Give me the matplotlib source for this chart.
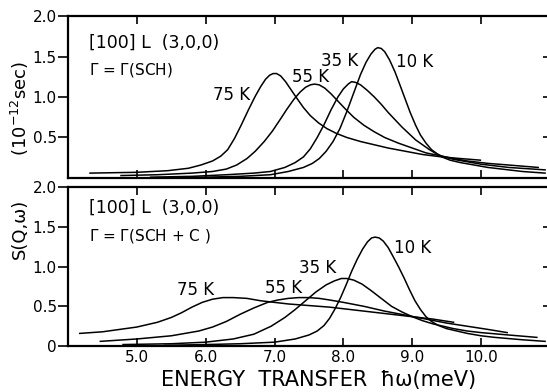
import matplotlib.pyplot as plt

# S(Q,w) line shapes, top panel: Gamma = Gamma(SCH)
top_10k_x = [5.5, 6.0, 6.5, 6.94, 7.2, 7.42, 7.55, 7.65, 7.75, 7.85, 7.95, 8.05, 8.15, 8.25, 8.33,
             8.4, 8.46, 8.5, 8.55, 8.6, 8.67, 8.75, 8.83, 8.9, 8.97, 9.05, 9.12, 9.2, 9.28, 9.36,
             9.43, 9.55, 9.7, 9.9, 10.1, 10.3, 10.6, 10.93]
top_10k_y = [0.005, 0.01, 0.02, 0.04, 0.08, 0.13, 0.18, 0.24, 0.33, 0.45, 0.61, 0.82, 1.05, 1.28,
             1.43, 1.53, 1.59, 1.61, 1.60, 1.56, 1.46, 1.31, 1.13, 0.97, 0.81, 0.65, 0.53, 0.43,
             0.35, 0.30, 0.26, 0.22, 0.19, 0.16, 0.13, 0.11, 0.08, 0.06]
top_35k_x = [5.2, 5.8, 6.3, 6.7, 6.94, 7.15, 7.3, 7.42, 7.52, 7.62, 7.72, 7.82, 7.92, 8.0, 8.07,
             8.12, 8.18, 8.25, 8.35, 8.45, 8.55, 8.65, 8.75, 8.85, 8.95, 9.05, 9.15, 9.25, 9.35,
             9.43, 9.6, 9.8, 10.0, 10.4, 10.93]
top_35k_y = [0.01, 0.02, 0.04, 0.06, 0.08, 0.13, 0.19, 0.26, 0.36, 0.50, 0.66, 0.84, 1.00, 1.10,
             1.16, 1.19, 1.18, 1.15, 1.08, 1.00, 0.91, 0.81, 0.72, 0.63, 0.55, 0.47, 0.41, 0.35,
             0.30, 0.27, 0.23, 0.20, 0.17, 0.13, 0.10]
top_55k_x = [4.77, 5.3, 5.8, 6.1, 6.3, 6.45, 6.6, 6.72, 6.85, 6.97, 7.08, 7.18, 7.28, 7.37, 7.45,
             7.52, 7.58, 7.65, 7.73, 7.82, 7.92, 8.02, 8.15, 8.3, 8.45, 8.6, 8.8, 9.0, 9.2, 9.43,
             9.6, 9.8, 10.1, 10.4, 10.83]
top_55k_y = [0.03, 0.04, 0.06, 0.08, 0.11, 0.16, 0.24, 0.33, 0.45, 0.58, 0.72, 0.85, 0.97, 1.06,
             1.12, 1.15, 1.16, 1.15, 1.11, 1.04, 0.95, 0.86, 0.75, 0.65, 0.57, 0.50, 0.43, 0.37,
             0.31, 0.27, 0.24, 0.21, 0.18, 0.16, 0.13]
top_75k_x = [4.32, 5.0, 5.45, 5.75, 5.93, 6.1, 6.22, 6.32, 6.42, 6.52, 6.62, 6.72, 6.8, 6.87,
             6.93, 6.98, 7.03, 7.09, 7.16, 7.24, 7.32, 7.42, 7.52, 7.64, 7.76, 7.9, 8.05, 8.25,
             8.45, 8.65, 8.9, 9.15, 9.43, 9.7, 9.99]
top_75k_y = [0.06, 0.07, 0.09, 0.12, 0.16, 0.21, 0.27, 0.35, 0.49, 0.66, 0.84, 1.01, 1.13, 1.22,
             1.27, 1.29, 1.29, 1.26, 1.19, 1.09, 0.99, 0.87, 0.77, 0.68, 0.61, 0.55, 0.50, 0.45,
             0.41, 0.37, 0.33, 0.29, 0.26, 0.24, 0.22]

# bottom panel: Gamma = Gamma(SCH + C)
bot_10k_x = [5.4, 6.0, 6.5, 7.0, 7.3, 7.5, 7.62, 7.72, 7.8, 7.88, 7.96, 8.04, 8.12, 8.2, 8.28,
             8.35, 8.41, 8.46, 8.52, 8.58, 8.65, 8.72, 8.8, 8.88, 8.96, 9.04, 9.12, 9.2, 9.28,
             9.38, 9.5, 9.65, 9.8, 10.0, 10.2, 10.6, 10.93]
bot_10k_y = [0.01, 0.02, 0.03, 0.05, 0.09, 0.14, 0.19, 0.26, 0.35, 0.47, 0.61, 0.77, 0.94, 1.09,
             1.22, 1.31, 1.36, 1.37, 1.36, 1.32, 1.24, 1.13, 1.0, 0.86, 0.71, 0.57, 0.46, 0.37,
             0.31, 0.26, 0.22, 0.19, 0.16, 0.13, 0.11, 0.08, 0.06]
bot_35k_x = [4.8, 5.5, 6.0, 6.4, 6.7, 6.95, 7.15, 7.3, 7.45, 7.6, 7.75, 7.87, 7.97, 8.05, 8.15,
             8.27, 8.4, 8.55, 8.7, 8.85, 9.0, 9.15, 9.3, 9.45, 9.6, 9.8, 10.0, 10.4, 10.81]
bot_35k_y = [0.02, 0.03, 0.05, 0.09, 0.15, 0.25, 0.36, 0.46, 0.57, 0.68, 0.77, 0.82, 0.85, 0.85,
             0.83, 0.78, 0.70, 0.60, 0.50, 0.43, 0.37, 0.32, 0.28, 0.25, 0.22, 0.19, 0.17, 0.14,
             0.11]
bot_55k_x = [4.47, 5.0, 5.5, 5.9, 6.1, 6.3, 6.5, 6.7, 6.9, 7.05, 7.2, 7.35, 7.5, 7.65, 7.8, 8.0,
             8.3, 8.6, 8.9, 9.2, 9.5, 9.8, 10.1, 10.38]
bot_55k_y = [0.06, 0.09, 0.13, 0.19, 0.24, 0.31, 0.40, 0.48, 0.55, 0.58, 0.60, 0.61, 0.61, 0.60,
             0.58, 0.55, 0.50, 0.44, 0.39, 0.34, 0.29, 0.25, 0.21, 0.17]
bot_75k_x = [4.17, 4.5, 5.0, 5.3, 5.5, 5.65, 5.8, 5.95, 6.1, 6.25, 6.4, 6.6, 6.8, 7.0, 7.2, 7.5,
             7.8, 8.2, 8.6, 9.0, 9.3, 9.6]
bot_75k_y = [0.16, 0.18, 0.24, 0.30, 0.36, 0.42, 0.49, 0.55, 0.59, 0.61, 0.61, 0.60, 0.57, 0.55,
             0.53, 0.51, 0.49, 0.45, 0.41, 0.37, 0.34, 0.30]

x_ticks = [5.0, 6.0, 7.0, 8.0, 9.0, 10.0]
x_tick_labels = ['5.0', '6.0', '7.0', '8.0', '9.0', '10.0']
top_y_ticks = [0.5, 1.0, 1.5, 2.0]
top_y_labels = ['0.5', '1.0', '1.5', '2.0']
bot_y_ticks = [0, 0.5, 1.0, 1.5, 2.0]
bot_y_labels = ['0', '0.5', '1.0', '1.5', '2.0']

top_curves = [(top_10k_x, top_10k_y), (top_35k_x, top_35k_y),
              (top_55k_x, top_55k_y), (top_75k_x, top_75k_y)]
bot_curves = [(bot_10k_x, bot_10k_y), (bot_35k_x, bot_35k_y),
              (bot_55k_x, bot_55k_y), (bot_75k_x, bot_75k_y)]

top_temp_labels = [('75 K', 6.37, 1.02), ('55 K', 7.52, 1.25), ('35 K', 7.94, 1.44), ('10 K', 9.04, 1.43)]
bot_temp_labels = [('75 K', 5.85, 0.70), ('55 K', 7.13, 0.73), ('35 K', 7.62, 0.98), ('10 K', 9.0, 1.23)]

fig = plt.figure(figsize=(5.47, 3.92), dpi=100)
ax_top = fig.add_axes([0.1243, 0.546, 0.881, 0.413])
ax_bot = fig.add_axes([0.1243, 0.117, 0.881, 0.406])


def style_axis(ax, yticks, ylabels, show_x):
    ax.set_xlim(4.0, 11.0)
    ax.set_ylim(0, 2.0)
    for sp in ax.spines.values():
        sp.set_linewidth(1.6)
    ax.set_xticks(x_ticks)
    if show_x:
        ax.set_xticklabels(x_tick_labels, fontsize=11)
    else:
        ax.set_xticklabels([])
    ax.set_yticks(yticks)
    ax.set_yticklabels(ylabels, fontsize=11)
    ax.tick_params(axis='x', direction='in', top=True, length=6, width=1.2, pad=3)
    ax.tick_params(axis='y', direction='out', length=7, width=1.2, pad=1, right=False)
    # inward ticks on the right-hand side
    sec = ax.secondary_yaxis('right')
    sec.set_yticks(yticks)
    sec.set_yticklabels([])
    sec.tick_params(direction='in', length=5, width=1.2)
    sec.spines['right'].set_visible(False)


for ax, curves, temps in [(ax_top, top_curves, top_temp_labels), (ax_bot, bot_curves, bot_temp_labels)]:
    for xs, ys in curves:
        ax.plot(xs, ys, color='black', linewidth=1.1)
    for txt, tx, ty in temps:
        ax.text(tx, ty, txt, fontsize=12, ha='center', va='center')

style_axis(ax_top, top_y_ticks, top_y_labels, False)
style_axis(ax_bot, bot_y_ticks, bot_y_labels, True)

ax_top.text(4.3, 1.67, '[100] L  (3,0,0)', fontsize=12.5, va='center')
ax_top.text(4.3, 1.33, r'$\Gamma$ = $\Gamma$(SCH)', fontsize=11, va='center')
ax_bot.text(4.3, 1.74, '[100] L  (3,0,0)', fontsize=12.5, va='center')
ax_bot.text(4.3, 1.38, r'$\Gamma$ = $\Gamma$(SCH + C )', fontsize=11, va='center')

fig.text(0.036, 0.416, 'S(Q,ω)', rotation=90, fontsize=13, ha='center', va='center')
fig.text(0.036, 0.722, r'(10$^{-12}$sec)', rotation=90, fontsize=13, ha='center', va='center')
fig.text(0.583, 0.031, 'ENERGY  TRANSFER  ħω(meV)', fontsize=15, ha='center', va='center')

fig.savefig('out.png', dpi=100)
